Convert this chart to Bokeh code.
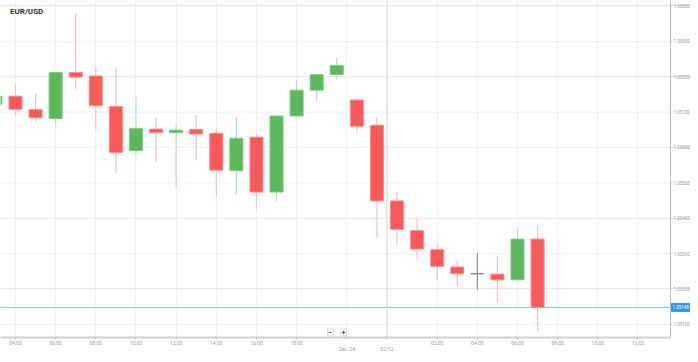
from bokeh.plotting import figure
from bokeh.models import Range1d, FixedTicker, Span, Label, ColumnDataSource
from bokeh.core.properties import value
from bokeh.embed import file_html
from bokeh.resources import INLINE

# ---- data (hourly EUR/USD candles, compressed weekend gap) ----
candle_idx = list(range(28))
opens  = [1.05722, 1.05745, 1.05707, 1.05682, 1.05812, 1.05802, 1.05716, 1.05591, 1.05652, 1.05642,
          1.05651, 1.05640, 1.05534, 1.05629, 1.05474, 1.05689, 1.05762, 1.05806, 1.05734, 1.05663,
          1.05449, 1.05365, 1.05311, 1.05262, 1.05243, 1.05242, 1.05226, 1.05341]
highs  = [1.05750, 1.05776, 1.05751, 1.05813, 1.05980, 1.05830, 1.05823, 1.05743, 1.05685, 1.05665,
          1.05694, 1.05654, 1.05687, 1.05640, 1.05690, 1.05790, 1.05807, 1.05854, 1.05741, 1.05685,
          1.05474, 1.05402, 1.05328, 1.05280, 1.05302, 1.05292, 1.05372, 1.05381]
lows   = [1.05715, 1.05691, 1.05673, 1.05661, 1.05764, 1.05649, 1.05527, 1.05574, 1.05560, 1.05489,
          1.05563, 1.05463, 1.05468, 1.05426, 1.05447, 1.05688, 1.05731, 1.05792, 1.05643, 1.05344,
          1.05323, 1.05287, 1.05226, 1.05209, 1.05198, 1.05162, 1.05224, 1.05081]
closes = [1.05745, 1.05708, 1.05684, 1.05812, 1.05799, 1.05718, 1.05586, 1.05654, 1.05642, 1.05649,
          1.05638, 1.05536, 1.05626, 1.05474, 1.05689, 1.05762, 1.05806, 1.05832, 1.05660, 1.05449,
          1.05369, 1.05313, 1.05264, 1.05243, 1.05243, 1.05226, 1.05341, 1.05148]
current_price = 1.05148

x_tick_pos = [1, 3, 5, 7, 9, 11, 13, 15, 17.5, 19.5, 22, 24, 26, 28, 30, 32]
x_tick_labels = ["04:00", "06:00", "08:00", "10:00", "12:00", "14:00", "16:00", "18:00",
                 "\nDec '24", "\n02/12", "02:00", "04:00", "06:00", "08:00", "10:00", "12:00"]
y_ticks = [1.051, 1.052, 1.053, 1.054, 1.055, 1.056, 1.057, 1.058, 1.059, 1.060]
y_tick_labels = ["%.5f" % v for v in y_ticks]

UP = "#5cb85c"
DOWN = "#f75a5a"
FLAT = "#8a8a8a"

# view window (candle-index units) and price-scale edge
X0, X1 = 0.253, 34.615
SCALE_EDGE = 33.62          # where the price scale line sits
PX = 1.0 / 20.08            # one screen pixel in candle-index units

body_col, wick_col, line_col, tops, bots = [], [], [], [], []
for o, c in zip(opens, closes):
    if c > o:
        body_col.append(UP); wick_col.append("#b8e0b8"); line_col.append("#7fcc7f")
    elif c < o:
        body_col.append(DOWN); wick_col.append("#ffbcbc"); line_col.append("#ff8a8a")
    else:
        body_col.append(FLAT); wick_col.append(FLAT); line_col.append(FLAT)
    tops.append(max(o, c)); bots.append(min(o, c))

src = ColumnDataSource(dict(x=candle_idx, o=opens, h=highs, l=lows, c=closes,
                            top=tops, bottom=bots, body=body_col, wick=wick_col, edge=line_col))

p = figure(width=690, height=354, output_backend="svg", toolbar_location=None,
           x_range=Range1d(X0, X1), y_range=Range1d(1.050629, 1.060155),
           y_axis_location=None,
           min_border_left=0, min_border_top=0, min_border_right=0, min_border_bottom=16)
p.outline_line_color = None
p.background_fill_color = "white"
p.border_fill_color = "white"

# vertical grid
p.xgrid.ticker = FixedTicker(ticks=x_tick_pos)
p.xgrid.grid_line_color = "#f1f1f1"

# horizontal grid, stopping at the price scale
p.segment(x0=[X0] * len(y_ticks), y0=y_ticks, x1=[SCALE_EDGE] * len(y_ticks), y1=y_ticks,
          line_color="#efefef", line_width=1)

p.add_layout(Span(location=19.5, dimension="height", line_color="#d9d9d9", line_width=1))

# current price line
p.segment(x0=[X0], y0=[current_price], x1=[SCALE_EDGE], y1=[current_price],
          line_color="#7cc3f0", line_width=1)

# candles
p.segment(x0="x", y0="h", x1="x", y1="l", color="wick", line_width=1.2, source=src)
p.vbar(x="x", width=0.65, top="top", bottom="bottom", fill_color="body",
       line_color="edge", line_width=1, source=src)

# price scale on the right
p.add_layout(Span(location=SCALE_EDGE, dimension="height", line_color="#bdbdbd", line_width=1))
p.segment(x0=[SCALE_EDGE] * len(y_ticks), y0=y_ticks,
          x1=[SCALE_EDGE + 2 * PX] * len(y_ticks), y1=y_ticks,
          line_color="#c0c0c0", line_width=1)
p.text(x=[SCALE_EDGE + 3 * PX] * len(y_ticks), y=y_ticks, text=y_tick_labels,
       text_font=value("Roboto"), text_font_size="4.5px", text_color="#9a9a9a",
       text_align="left", text_baseline="middle")

# current price tag
p.add_layout(Label(x=SCALE_EDGE + 1 * PX, y=current_price, x_units="data", y_units="data",
                   text="%.5f" % current_price,
                   text_font="Roboto", text_font_size="4.5px", text_color="white",
                   text_align="left", text_baseline="middle",
                   background_fill_color="#2f95ee", border_line_color="#2f95ee", padding=(1, 2)))

# x axis
xa = p.xaxis[0]
xa.ticker = FixedTicker(ticks=x_tick_pos)
xa.bounds = (X0, SCALE_EDGE)
xa.major_label_overrides = {k: v for k, v in zip(x_tick_pos, x_tick_labels)}
xa.major_label_text_font = "Roboto"
xa.major_label_text_font_size = "5px"
xa.major_label_text_line_height = 1.0
xa.major_label_text_color = "#9a9a9a"
xa.major_label_standoff = 0
xa.axis_line_color = "#cfcfcf"
xa.axis_line_width = 2
xa.major_tick_line_color = "#c0c0c0"
xa.major_tick_out = 2
xa.major_tick_in = 0
xa.minor_tick_line_color = None

# title
p.add_layout(Label(x=9.5, y=326, x_units="screen", y_units="screen", text="EUR/USD",
                   text_font="Roboto", text_font_size="8px", text_font_style="bold",
                   text_color="#333333", text_align="left", text_baseline="middle"))

# zoom buttons
for xs, t in [(330, "\u2212"), (343, "+")]:
    p.add_layout(Label(x=xs, y=5, x_units="screen", y_units="screen", text=t,
                       text_font="Roboto", text_font_size="7px", text_font_style="bold",
                       text_color="#555555", text_align="center", text_baseline="middle",
                       background_fill_color="#ffffff", border_line_color="#dddddd",
                       padding=1))

open("out.html", "w").write(file_html(p, INLINE))
